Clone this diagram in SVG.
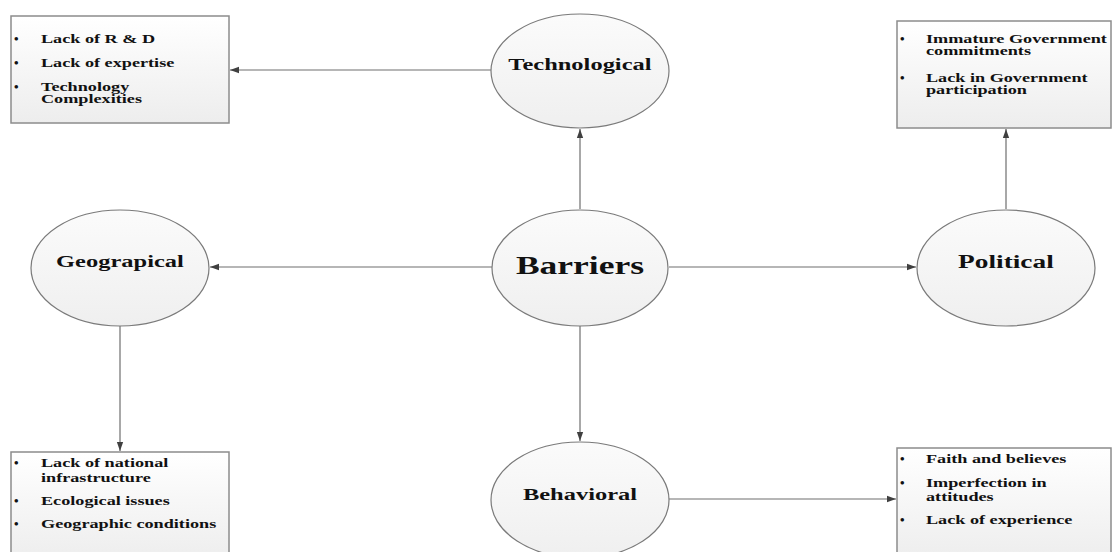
<svg xmlns="http://www.w3.org/2000/svg" width="1112" height="552" viewBox="0 0 1112 552">
<defs>
<linearGradient id="boxGrad" x1="0" y1="0" x2="0" y2="1">
<stop offset="0" stop-color="#ffffff"/>
<stop offset="1" stop-color="#ededed"/>
</linearGradient>
<linearGradient id="ellGrad" x1="0" y1="0" x2="0" y2="1">
<stop offset="0" stop-color="#fbfbfb"/>
<stop offset="1" stop-color="#efefef"/>
</linearGradient>
<marker id="arr" viewBox="0 0 10 10" refX="10" refY="5" markerWidth="9" markerHeight="9" markerUnits="userSpaceOnUse" orient="auto">
<path d="M0,1.5 L10,5 L0,8.5 Z" fill="#404040"/>
</marker>
</defs>
<style>
.box{fill:url(#boxGrad);stroke:#8c8c8c;stroke-width:1.5}
.ell{fill:url(#ellGrad);stroke:#7a7a7a;stroke-width:1.2}
.conn{stroke:#6e6e6e;stroke-width:1.2;fill:none;marker-end:url(#arr)}
.t{font-family:"Liberation Serif","Times New Roman",serif;font-weight:bold;fill:#111;transform-box:fill-box}
.lbl{font-size:17px;text-anchor:middle;transform-origin:50% 50%;transform:scaleX(1.44)}
.pol{font-size:19px}
.big{font-size:25px;text-anchor:middle;transform-origin:50% 50%;transform:scaleX(1.42)}
.item{font-size:13px;transform-origin:0 50%;transform:scaleX(1.4)}
.bul{font-size:13px}
</style>
<rect width="1112" height="552" fill="#ffffff"/>
<g id="connectors">
<line class="conn" x1="491" y1="70" x2="230" y2="70"/>
<line class="conn" x1="580" y1="209" x2="580" y2="129"/>
<line class="conn" x1="492" y1="267" x2="210" y2="267"/>
<line class="conn" x1="669" y1="267" x2="916" y2="267"/>
<line class="conn" x1="1006" y1="209" x2="1006" y2="129"/>
<line class="conn" x1="120" y1="326" x2="120" y2="451"/>
<line class="conn" x1="580" y1="326" x2="580" y2="441"/>
<line class="conn" x1="669" y1="499" x2="896" y2="499"/>
</g>
<g id="tech-box">
<rect class="box" x="11" y="16" width="218" height="107"/>
<text class="t bul" x="14" y="43">•</text><text class="t item" x="41" y="43">Lack of R &amp; D</text>
<text class="t bul" x="14" y="67">•</text><text class="t item" x="41" y="67">Lack of expertise</text>
<text class="t bul" x="14" y="91">•</text><text class="t item" x="41" y="91">Technology</text>
<text class="t item" x="41" y="103">Complexities</text>
</g>
<g id="technological">
<ellipse class="ell" cx="580" cy="71" rx="89" ry="57"/>
<text class="t lbl" x="580" y="70">Technological</text>
</g>
<g id="political-box">
<rect class="box" x="897" y="21" width="214" height="107"/>
<text class="t bul" x="900" y="43">•</text><text class="t item" x="926" y="43">Immature Government</text>
<text class="t item" x="926" y="55">commitments</text>
<text class="t bul" x="900" y="82">•</text><text class="t item" x="926" y="82">Lack in Government</text>
<text class="t item" x="926" y="94">participation</text>
</g>
<g id="geographical">
<ellipse class="ell" cx="120" cy="268" rx="89" ry="58"/>
<text class="t lbl" x="120" y="267">Geograpical</text>
</g>
<g id="barriers">
<ellipse class="ell" cx="580" cy="268" rx="88" ry="58"/>
<text class="t big" x="580" y="274">Barriers</text>
</g>
<g id="political">
<ellipse class="ell" cx="1006" cy="268" rx="89" ry="58"/>
<text class="t lbl pol" x="1006" y="268">Political</text>
</g>
<g id="geo-box">
<rect class="box" x="11" y="452" width="218" height="110"/>
<text class="t bul" x="14" y="467">•</text><text class="t item" x="41" y="467">Lack of national</text>
<text class="t item" x="41" y="482">infrastructure</text>
<text class="t bul" x="14" y="505">•</text><text class="t item" x="41" y="505">Ecological issues</text>
<text class="t bul" x="14" y="528">•</text><text class="t item" x="41" y="528">Geographic conditions</text>
</g>
<g id="behavioral">
<ellipse class="ell" cx="580" cy="500" rx="89" ry="58"/>
<text class="t lbl" x="580" y="500">Behavioral</text>
</g>
<g id="behav-box">
<rect class="box" x="897" y="448" width="214" height="114"/>
<text class="t bul" x="900" y="463">•</text><text class="t item" x="926" y="463">Faith and believes</text>
<text class="t bul" x="900" y="487">•</text><text class="t item" x="926" y="487">Imperfection in</text>
<text class="t item" x="926" y="501">attitudes</text>
<text class="t bul" x="900" y="524">•</text><text class="t item" x="926" y="524">Lack of experience</text>
</g>
</svg>
